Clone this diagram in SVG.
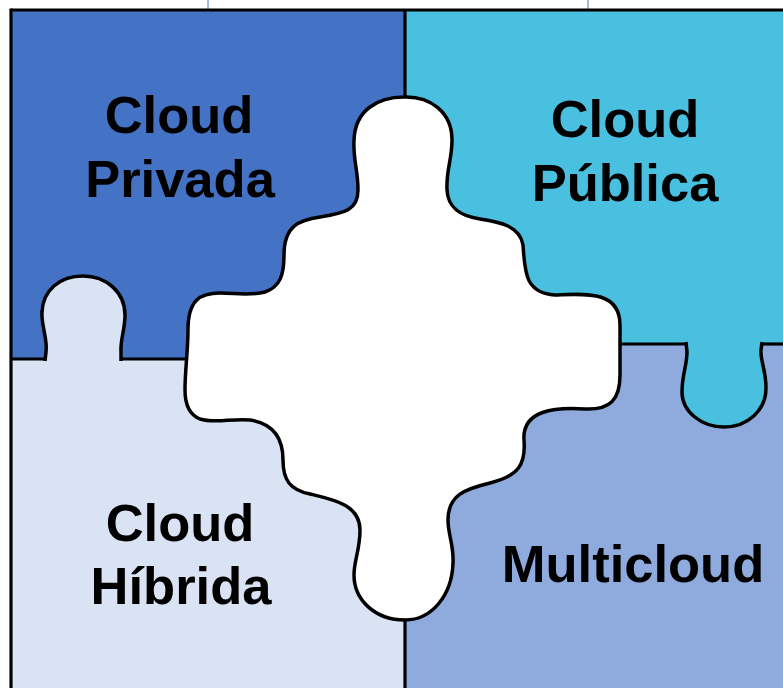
<svg xmlns="http://www.w3.org/2000/svg" width="783" height="688" viewBox="0 0 783 688">
<style>
.lbl{font-family:"Liberation Sans",Arial,sans-serif;font-weight:bold;font-size:52.5px;fill:#000;text-anchor:middle}
.ln{stroke:#000;stroke-width:3.2;fill:none;stroke-linecap:butt}
.edge{stroke:#000;stroke-width:3.5;stroke-linejoin:round}
</style>
<rect width="783" height="688" fill="#fff"/>
<line x1="208" y1="0" x2="208" y2="10" stroke="#4472C4" stroke-width="1"/>
<line x1="588" y1="0" x2="588" y2="10" stroke="#4472C4" stroke-width="1"/>
<g id="privada">
<rect x="11" y="10" width="394" height="349" fill="#4472C4"/>
</g>
<g id="publica">
<rect x="405" y="10" width="378" height="334" fill="#4AC0E0"/>
</g>
<g id="hibrida">
<rect x="11" y="359" width="394" height="329" fill="#DAE3F3"/>
<path class="edge" fill="#DAE3F3" d="M45,361 L46,352 C48,340 41,325 42,312 C43,290 60,276 83,276 C106,276 125,292 125,315 C125,330 120,340 121,352 L121,361"/>
</g>
<g id="multicloud">
<rect x="405" y="344" width="378" height="344" fill="#8FAADC"/>
</g>
<g id="publica-tab">
<path class="edge" fill="#4AC0E0" d="M686,342 L687,352 C687,365 682,375 682,392 C682,412 702,427 724,427 C748,427 766,410 766,388 C766,370 760,360 761,350 L762,342"/>
</g>
<g id="connectors">
<line class="ln" x1="11" y1="10" x2="783" y2="10"/>
<line class="ln" x1="11" y1="8.4" x2="11" y2="688"/>
<line class="ln" x1="405" y1="10" x2="405" y2="120"/>
<line class="ln" x1="405" y1="600" x2="405" y2="688"/>
<line class="ln" x1="11" y1="359" x2="46" y2="359"/>
<line class="ln" x1="120" y1="359" x2="200" y2="359"/>
<line class="ln" x1="600" y1="344" x2="687" y2="344"/>
<line class="ln" x1="761" y1="344" x2="783" y2="344"/>
</g>
<g id="center">
<path class="edge" fill="#fff" d="M404,97 C430,96 452,112 452,140 C452,160 446,170 447,190 C448,208 460,216 480,219 C500,222 520,226 523,245 C525,270 524,293 555,295 C585,294 620,290 620,325 L620,375 C620,400 610,410 585,409 C555,407 522,410 524,440 C526,465 518,476 490,483 C465,489 448,495 448,520 C448,535 454,545 453,563 C452,595 432,620 405,620 C375,620 354,600 354,575 C354,560 360,550 360,530 C360,505 335,500 310,494 C290,490 283,480 283,460 C283,442 276,424 250,420 C232,418 215,424 200,419 C190,415 185,405 185,390 C185,370 188,350 188,330 C188,300 200,293 220,293 C235,293 250,296 265,292 C280,287 284,275 284,255 C284,225 300,220 320,217 C345,213 358,210 358,190 C358,170 353,160 354,140 C355,110 378,97 404,97 Z"/>
</g>
<g id="labels">
<text class="lbl" x="179" y="133">Cloud</text>
<text class="lbl" x="180" y="197">Privada</text>
<text class="lbl" x="625" y="137">Cloud</text>
<text class="lbl" x="625" y="201">Pública</text>
<text class="lbl" x="180" y="541">Cloud</text>
<text class="lbl" x="181" y="604">Híbrida</text>
<text class="lbl" x="633" y="582">Multicloud</text>
</g>
</svg>
